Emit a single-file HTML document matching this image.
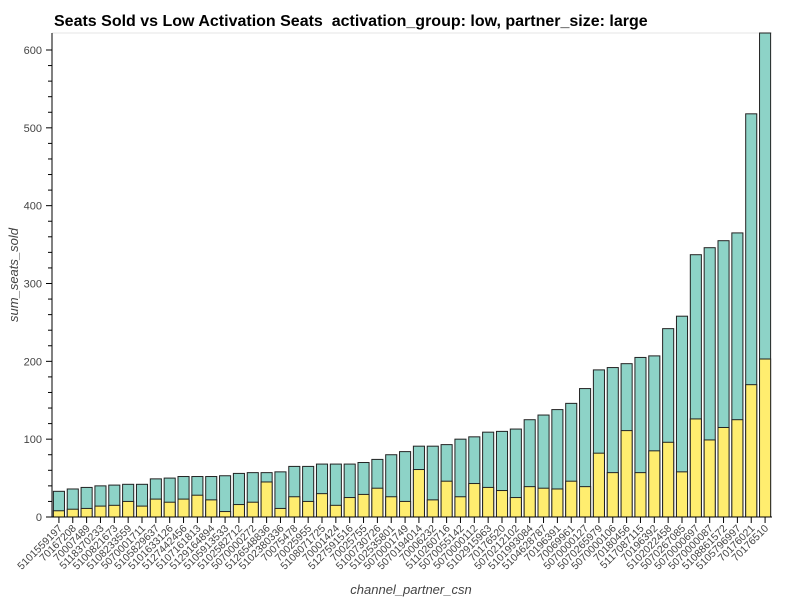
<!DOCTYPE html>
<html><head><meta charset="utf-8"><style>
body{margin:0;background:#fff;}
svg text{font-family:"Liberation Sans",sans-serif;}
</style></head><body>
<svg id="chart" width="800" height="600" xmlns="http://www.w3.org/2000/svg">
<text x="54" y="26" font-size="16" font-weight="bold" fill="#000">Seats Sold vs Low Activation Seats&#160; activation_group: low, partner_size: large</text>
<line x1="52" y1="33" x2="772" y2="33" stroke="#e5e5e5"/>
<g id="bars"></g>
<g id="axes"></g>
<text transform="translate(18,275) rotate(-90)" text-anchor="middle" font-size="13" font-style="italic" fill="#444">sum_seats_sold</text>
<text x="411" y="594" text-anchor="middle" font-size="13" font-style="italic" fill="#444">channel_partner_csn</text>
</svg>
<script>
const categories=["5101559197","70167208","70007489","5118370233","5100821673","5108233559","5070001711","5105829637","5101633126","5127442456","5107161813","5129164894","5105913533","5102582712","5070000272","5126548836","5102380336","70075478","70025955","5108071725","70001424","5127591516","70025755","5100730726","5102535801","5070001749","5070194014","70006232","5110260716","5070055142","5070000112","5102915963","70176520","5070212102","5101993084","5104628787","70196391","70069961","5070000127","5070265979","5070000106","70180456","5117087115","70196392","5102022458","5070267085","5070000697","5070000087","5108861572","5105796997","70176021","70176510"];
const totalSeats=[33,36,38,40,41,42,42,49,50,52,52,52,53,56,57,57,58,65,65,68,68,68,70,74,80,84,91,91,93,100,103,109,110,113,125,131,138,146,165,189,192,197,205,207,242,258,337,346,355,365,518,640];
const lowSeats=[8,10,11,14,15,20,14,23,19,23,28,22,7,16,19,45,11,26,20,30,15,25,29,37,26,20,61,22,46,26,43,38,34,25,39,37,36,46,39,82,57,111,57,85,96,58,126,99,115,125,170,203];
const yTicks=[0,100,200,300,400,500,600];
const NS="http://www.w3.org/2000/svg";
const X0=52,X1=772,Y0=517,Ytop=33,K=(517-50)/600;
const band=(X1-X0)/categories.length;
const xc=i=>X0+band*(i+0.5);
const y=v=>Math.max(Ytop,Y0-v*K);
function mk(tag,attrs,parent){const e=document.createElementNS(NS,tag);for(const k in attrs)e.setAttribute(k,attrs[k]);parent.appendChild(e);return e;}
const bars=document.getElementById('bars'),axes=document.getElementById('axes');
const bw=band*0.8;
categories.forEach((c,i)=>{
  const t=mk('rect',{x:xc(i)-bw/2,y:y(totalSeats[i]),width:bw,height:Y0-y(totalSeats[i]),fill:'#8dd3c7',stroke:'#222','stroke-width':1},bars);
  
  
  const l=mk('rect',{x:xc(i)-bw/2,y:y(lowSeats[i]),width:bw,height:Y0-y(lowSeats[i]),fill:'#ffed6f',stroke:'#222','stroke-width':1},bars);
  
  
  const tk=mk('line',{x1:xc(i),x2:xc(i),y1:Y0,y2:Y0+6,stroke:'#000'},axes);
  
  
  const tx=mk('text',{x:xc(i)+4,y:Y0+12,'text-anchor':'end','font-size':10.5,fill:'#444',transform:`rotate(-45 ${xc(i)+4} ${Y0+12})`},axes);
  tx.textContent=c;
  
  
});
mk('line',{x1:X0,x2:X0,y1:Ytop,y2:Y0,stroke:'#000'},axes);
mk('line',{x1:X0,x2:X1,y1:Y0,y2:Y0,stroke:'#000'},axes);
for(let v=20;v<620;v+=20){if(v%100)mk('line',{x1:X0-4,x2:X0,y1:Y0-v*K,y2:Y0-v*K,stroke:'#000'},axes);}
yTicks.forEach(v=>{
  mk('line',{x1:X0-6,x2:X0,y1:Y0-v*K,y2:Y0-v*K,stroke:'#000'},axes);
  const t=mk('text',{x:X0-10,y:Y0-v*K+4,'text-anchor':'end','font-size':11,fill:'#444'},axes);
  t.textContent=v;
  
  
});
</script>
</body></html>
